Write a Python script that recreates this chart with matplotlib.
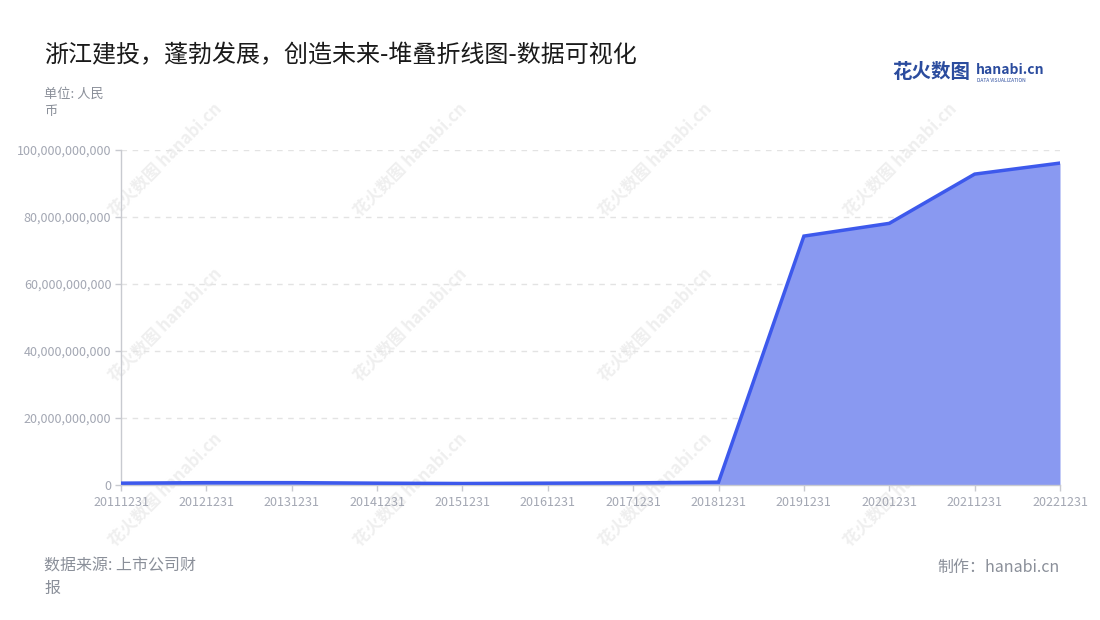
import matplotlib
matplotlib.use("Agg")
import matplotlib.pyplot as plt
from matplotlib.ticker import FuncFormatter

plt.rcParams['font.family'] = ['Noto Sans CJK SC', 'DejaVu Sans']

# data (RMB)
dates = ['20111231', '20121231', '20131231', '20141231', '20151231', '20161231',
         '20171231', '20181231', '20191231', '20201231', '20211231', '20221231']
values = [0.55e9, 0.7e9, 0.7e9, 0.55e9, 0.45e9, 0.55e9,
          0.65e9, 0.85e9, 74.3e9, 78.1e9, 92.8e9, 96.1e9]
y_ticks = [0, 20e9, 40e9, 60e9, 80e9, 100e9]

title = '浙江建投，蓬勃发展，创造未来-堆叠折线图-数据可视化'
unit_text = '单位: 人民\n币'
source_text = '数据来源: 上市公司财\n报'
credit_text = '制作：hanabi.cn'

line_color = '#3d59ec'
fill_color = '#8999f1'
tick_color = '#a3a7b3'
text_gray = '#8a8f99'

W, H = 1100, 620
fig = plt.figure(figsize=(W / 100, H / 100), dpi=100)

# faint watermark pattern, kept behind the chart
for wx in [165, 410, 655, 900]:
    for wy in [160, 325, 490]:
        fig.text(wx / W, 1 - wy / H, '花火数图 hanabi.cn', rotation=45,
                 fontsize=12, color='#efefef', fontweight='bold',
                 ha='center', va='center', zorder=-5)

ax = fig.add_axes([121 / W, (H - 485) / H, (1060 - 121) / W, (485 - 150) / H])
ax.set_zorder(1)

x = list(range(len(dates)))
ax.fill_between(x, values, 0, color=fill_color, zorder=2, linewidth=0)
ax.plot(x, values, color=line_color, linewidth=2.5, zorder=3,
        solid_joinstyle='miter')

ax.set_xlim(0, len(dates) - 1)
ax.set_ylim(0, 100e9)
ax.set_xticks(x)
ax.set_xticklabels(dates)
ax.set_yticks(y_ticks)
ax.yaxis.set_major_formatter(FuncFormatter(lambda v, p: f'{v:,.0f}'))

ax.patch.set_alpha(0)
for s in ['top', 'right']:
    ax.spines[s].set_visible(False)
for s in ['left', 'bottom']:
    ax.spines[s].set_color('#c8cad0')
    ax.spines[s].set_linewidth(1)

ax.tick_params(axis='both', colors='#c8cad0', labelcolor=tick_color,
               labelsize=9, length=4, width=1)
ax.tick_params(axis='x', pad=4)
ax.tick_params(axis='y', pad=3)
ax.grid(axis='y', linestyle=(0, (4, 4)), color='#e3e3e3', linewidth=1, zorder=0)
ax.set_axisbelow(True)

fig.text(44 / W, 1 - 55 / H, title, fontsize=17.3, color='#1a1a1a',
         ha='left', va='center')
fig.text(44 / W, 1 - 88 / H, unit_text, fontsize=9.5, color=text_gray,
         ha='left', va='top', linespacing=1.35)
fig.text(44 / W, 1 - 558 / H, source_text, fontsize=11.5, color=text_gray,
         ha='left', va='top', linespacing=1.4)
fig.text(1060 / W, 1 - 567 / H, credit_text, fontsize=11.5, color=text_gray,
         ha='right', va='center')

# logo
fig.text(892 / W, 1 - 73 / H, '花火数图', fontsize=14, color='#2b4c9e',
         fontweight='bold', ha='left', va='center')
fig.text(976 / W, 1 - 70 / H, 'hanabi.cn', fontsize=10, color='#2b4c9e',
         fontweight='bold', ha='left', va='center')
fig.text(977 / W, 1 - 80 / H, 'DATA VISUALIZATION', fontsize=3.5, color='#2b4c9e',
         ha='left', va='center')

fig.savefig('out.png', dpi=100)
